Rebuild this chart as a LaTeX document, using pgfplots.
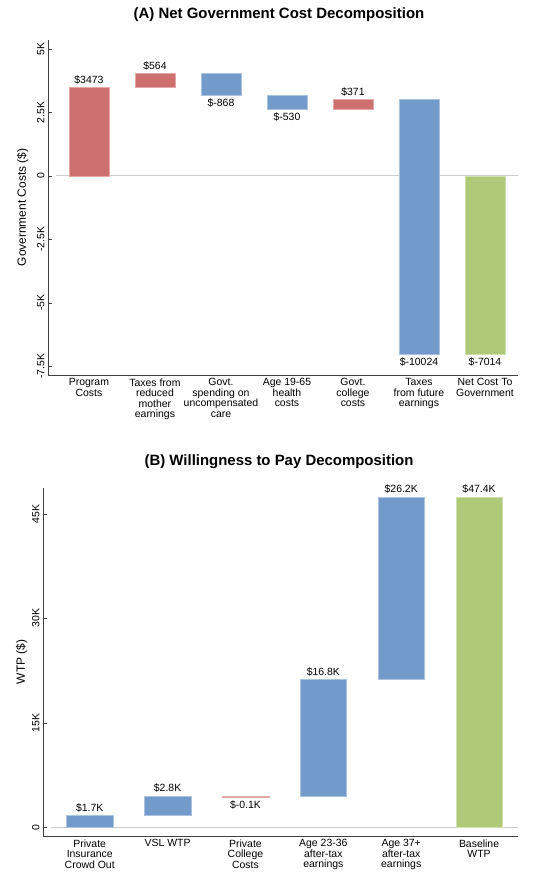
\documentclass[border=0pt]{standalone}
\usepackage{pgfplots}
\pgfplotsset{compat=1.18}
\usepackage{fontspec}
\setmainfont{Liberation Sans}
\definecolor{cr}{RGB}{207,112,112}
\definecolor{cb}{RGB}{114,155,204}
\definecolor{cg}{RGB}{175,201,120}
\newcommand{\wbar}[4]{\pgfmathsetmacro{\xl}{#1-0.3}\pgfmathsetmacro{\xr}{#1+0.3}%
\edef\tmp{\noexpand\addplot[fill=#4,draw=#4!60!white,line width=0.4pt] coordinates {(\xl,#2) (\xr,#2) (\xr,#3) (\xl,#3)} -- cycle;}\tmp}
\begin{document}
\begin{tikzpicture}
\useasboundingbox (0,0) rectangle (558bp,876bp);
\pgfplotsset{every axis/.style={scale only axis, axis lines*=left, axis line style={line width=0.8pt,black!75},
 xtick style={draw=none}, ytick style={black!75}, scaled y ticks=false,
 tick label style={font=\fontsize{10.5}{11}\selectfont}, yticklabel style={rotate=90},
 xticklabel style={align=center,font=\fontsize{10.5}{10.5}\selectfont},
 ylabel style={font=\fontsize{12}{13}\selectfont},
 clip=false, /pgf/number format/assume math mode=true}}
\tikzset{lab/.style={font=\fontsize{10.5}{11}\selectfont}}
\node[font=\bfseries\fontsize{15}{17}\selectfont] at (279bp,861bp) {(A) Net Government Cost Decomposition};
\begin{axis}[at={(48bp,501bp)},anchor=south west,width=470bp,height=335bp,
 xmin=-0.62,xmax=6.5,ymin=-7850,ymax=5350,
 xtick={0,...,6},
 xticklabels={Program\\Costs,Taxes from\\reduced\\mother\\earnings,Govt.\\spending on\\uncompensated\\care,Age 19-65\\health\\costs,Govt.\\college\\costs,Taxes\\from future\\earnings,Net Cost To\\Government},
 ytick={-7500,-5000,-2500,0,2500,5000},yticklabels={-7.5K,-5K,-2.5K,0,2.5K,5K},
 ylabel={Government Costs (\$)}, ylabel style={yshift=2bp}]
\draw[black!20,line width=0.8pt] (axis cs:-0.5,0) -- (axis cs:6.5,0);
\wbar{0}{0}{3473}{cr}
\wbar{1}{3473}{4037}{cr}
\wbar{2}{4037}{3169}{cb}
\wbar{3}{3169}{2639}{cb}
\wbar{4}{2639}{3010}{cr}
\wbar{5}{3010}{-7014}{cb}
\wbar{6}{0}{-7014}{cg}
\node[lab,above] at (axis cs:0,3473) {\$3473};
\node[lab,above] at (axis cs:1,4037) {\$564};
\node[lab,below] at (axis cs:2,3169) {\$-868};
\node[lab,below] at (axis cs:3,2639) {\$-530};
\node[lab,above] at (axis cs:4,3010) {\$371};
\node[lab,below] at (axis cs:5,-7014) {\$-10024};
\node[lab,below] at (axis cs:6,-7014) {\$-7014};
\end{axis}
\node[font=\bfseries\fontsize{15}{17}\selectfont] at (279bp,414bp) {(B) Willingness to Pay Decomposition};
\begin{axis}[at={(43bp,40bp)},anchor=south west,width=475bp,height=348bp,
 xmin=-0.6,xmax=5.5,ymin=-1260,ymax=48700,
 xtick={0,...,5},
 xticklabels={Private\\Insurance\\Crowd Out,VSL WTP,Private\\College\\Costs,Age 23-36\\after-tax\\earnings,Age 37+\\after-tax\\earnings,Baseline\\WTP},
 ytick={0,15000,30000,45000},yticklabels={0,15K,30K,45K},
 ylabel={WTP (\$)}, ylabel style={yshift=-2bp}]
\draw[black!20,line width=0.8pt] (axis cs:-0.5,0) -- (axis cs:5.5,0);
\wbar{0}{0}{1700}{cb}
\wbar{1}{1700}{4500}{cb}
\wbar{2}{4450}{4350}{cr}
\wbar{3}{4400}{21200}{cb}
\wbar{4}{21200}{47400}{cb}
\wbar{5}{0}{47400}{cg}
\node[lab,above] at (axis cs:0,1700) {\$1.7K};
\node[lab,above] at (axis cs:1,4500) {\$2.8K};
\node[lab,below] at (axis cs:2,4300) {\$-0.1K};
\node[lab,above] at (axis cs:3,21200) {\$16.8K};
\node[lab,above] at (axis cs:4,47400) {\$26.2K};
\node[lab,above] at (axis cs:5,47400) {\$47.4K};
\end{axis}
\end{tikzpicture}
\end{document}
